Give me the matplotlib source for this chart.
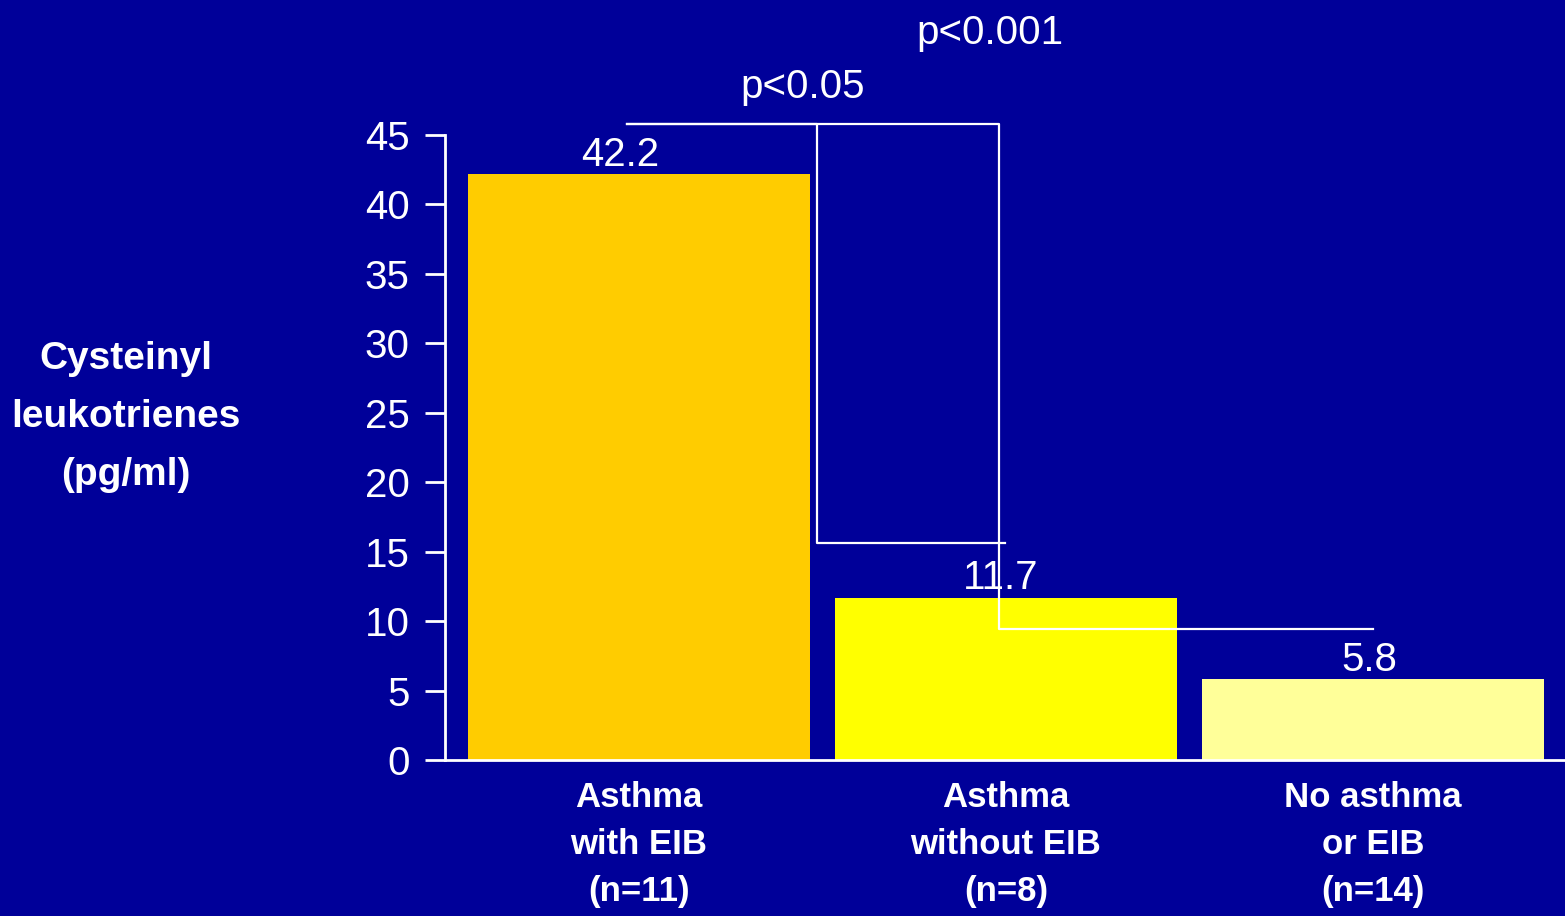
import matplotlib
matplotlib.use("Agg")
import matplotlib.pyplot as plt

categories = ["Asthma\nwith EIB\n(n=11)", "Asthma\nwithout EIB\n(n=8)", "No asthma\nor EIB\n(n=14)"]
values = [42.2, 11.7, 5.8]
value_labels = ["42.2", "11.7", "5.8"]
yticks = [0, 5, 10, 15, 20, 25, 30, 35, 40, 45]
p_labels = ["p<0.05", "p<0.001"]

BG = "#000099"
colors = ["#FFCC00", "#FFFF00", "#FFFF99"]
NARROW = ["Liberation Sans Narrow", "Liberation Sans", "DejaVu Sans"]
REG = ["Liberation Sans", "DejaVu Sans"]

fig = plt.figure(figsize=(15.65, 9.16), dpi=100, facecolor=BG)
ax = fig.add_axes([445/1565, 1-760/916, 1-445/1565, (760-135)/916])
ax.set_facecolor(BG)

x = list(range(len(values)))
ax.bar(x, values, width=0.93, color=colors, zorder=2)
ax.set_xlim(-0.528, 2.523)
ax.set_ylim(0, 45)

for s in ["top", "right"]:
    ax.spines[s].set_visible(False)
for s in ["left", "bottom"]:
    ax.spines[s].set_color("white")
    ax.spines[s].set_linewidth(2)
    ax.spines[s].set_zorder(3)

ax.set_yticks(yticks)
ax.set_yticklabels([str(t) for t in yticks], fontsize=29, color="white", family=REG)
ax.tick_params(axis="y", colors="white", length=14.4, width=2, pad=11)
ax.set_xticks(x)
ax.set_xticklabels(categories, fontsize=25, color="white", fontweight="bold",
                   family=NARROW, linespacing=1.55)
ax.tick_params(axis="x", length=0, pad=15)

offs = [-0.05, -0.015, -0.01]
for i, (v, lab) in enumerate(zip(values, value_labels)):
    ax.text(i + offs[i], v + 0.6, lab, ha="center", va="baseline", fontsize=29,
            color="white", family=REG, zorder=4)

# significance brackets
lw = 1.6
ax.plot([-0.033, 0.485, 0.485, 0.997], [45.76, 45.76, 15.6, 15.6],
        color="white", lw=lw, clip_on=False, zorder=5)
ax.plot([-0.033, 0.981, 0.981, 2.0], [45.76, 45.76, 9.42, 9.42],
        color="white", lw=lw, clip_on=False, zorder=5)
ax.text(0.447, 47.66, p_labels[0], ha="center", va="baseline", fontsize=29,
        color="white", family=REG)
ax.text(0.957, 51.55, p_labels[1], ha="center", va="baseline", fontsize=29,
        color="white", family=REG)

fig.text(126/1565, 1-417/916, "Cysteinyl\nleukotrienes\n(pg/ml)", ha="center", va="center",
         fontsize=28, color="white", fontweight="bold", family=NARROW, linespacing=1.78)

fig.savefig("out.png", dpi=100, facecolor=BG)
